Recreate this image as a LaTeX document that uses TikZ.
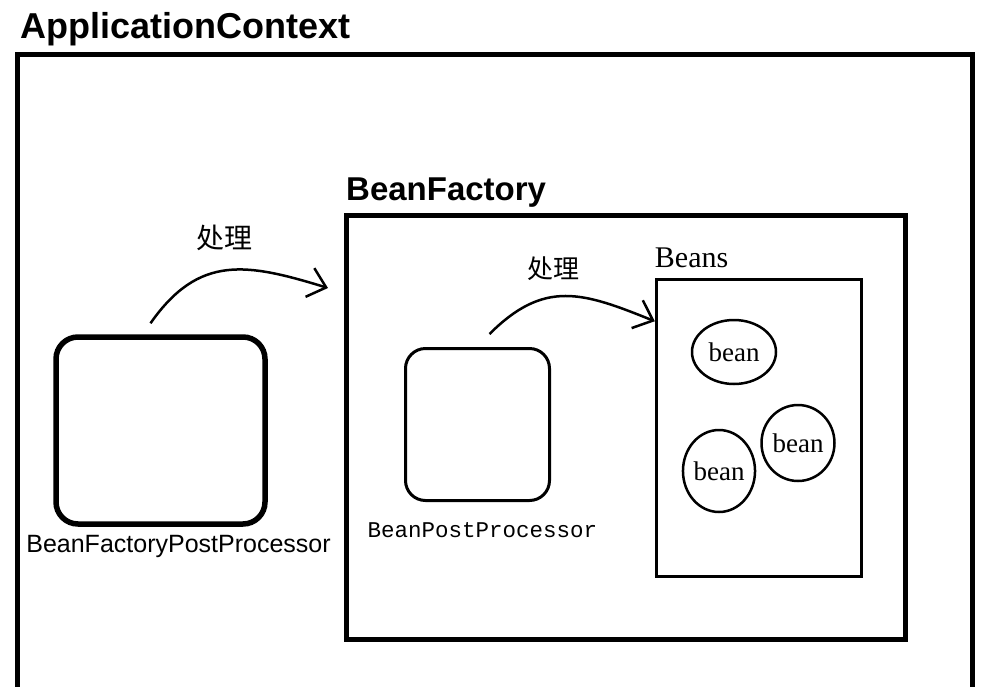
\documentclass[tikz,border=0pt]{standalone}
\usepackage{fontspec}
\setmainfont{Liberation Serif}
\newfontfamily\headfont{Liberation Sans}
\newfontfamily\codefont{Liberation Mono}
\newfontfamily\cjk{Noto Sans CJK SC}
\usetikzlibrary{arrows.meta,positioning,shapes.geometric}
\tikzstyle{container}=[
	rectangle,
	draw,
	line width=5pt,
	inner sep=0pt
]
\tikzstyle{title}=[
	anchor=base west,
	inner sep=0pt,
	font=\headfont\bfseries\fontsize{36}{40}\selectfont
]
\tikzstyle{processor}=[
	rectangle,
	draw,
	rounded corners=22pt,
	inner sep=0pt
]
\tikzstyle{bean}=[
	ellipse,
	draw,
	line width=2.5pt,
	inner sep=0pt,
	font=\fontsize{27}{30}\selectfont
]
\tikzstyle{handle}=[
	-{Straight Barb[length=17pt,width=30pt]},
	line width=2.5pt
]
\tikzstyle{verb}=[
	inner sep=0pt,
	font=\cjk\fontsize{28}{32}\selectfont
]

\begin{document}
\begin{tikzpicture}[x=1pt,y=-1pt]
\useasboundingbox (0,0) rectangle (996,686);
% outer context, open at the bottom of the page
\node [container, minimum width=955pt, minimum height=646pt] (ApplicationContext) at (494.5,377) {};
\node [title] (ApplicationContextTitle) at (20,38) {ApplicationContext};
\node [container, minimum width=559pt, minimum height=424pt] (BeanFactory) at (626,427.5) {};
\node [title, font=\headfont\bfseries\fontsize{33}{38}\selectfont] (BeanFactoryTitle)
	at ([xshift=2pt,yshift=13pt]BeanFactory.north west) {BeanFactory};
\node [container, line width=3pt, minimum width=205.5pt, minimum height=296.5pt] (Beans) at (759,428) {};
\node [inner sep=0pt, font=\fontsize{30}{34}\selectfont] (BeansTitle)
	[above right=10pt and 0pt of Beans.north west] {Beans};
% the three beans
\node [bean, minimum width=84pt, minimum height=64pt] (bean1) at (734,352) {bean};
\node [bean, minimum width=73pt, minimum height=76pt] (bean2) at (798,443) {bean};
\node [bean, minimum width=64pt, minimum height=82pt] (bean3) at (719,471) {bean};
% processors
\node [processor, line width=5.5pt, minimum width=209pt, minimum height=187pt] (BeanFactoryPostProcessor) at (160.5,430.5) {};
\node [inner sep=0pt, font=\headfont\fontsize{25}{30}\selectfont] (BeanFactoryPostProcessorLabel)
	[below=8pt of BeanFactoryPostProcessor, xshift=18pt] {BeanFactoryPostProcessor};
\node [processor, line width=3pt, rounded corners=20pt, minimum width=144pt, minimum height=152pt] (BeanPostProcessor) at (477.5,424.5) {};
\node [inner sep=0pt, font=\codefont\fontsize{22.5}{26}\selectfont] (BeanPostProcessorLabel)
	[below=20pt of BeanPostProcessor, xshift=5pt] {BeanPostProcessor};
% handling arrows
\draw [handle] ([xshift=-10pt,yshift=11pt]BeanFactoryPostProcessor.north)
	to [out=55, in=163, looseness=1.2] node [verb, pos=0.45, above=20pt, xshift=6pt] (handle1) {处理}
	([xshift=-16pt,yshift=-75pt]BeanFactory.north west);
\draw [handle] ([xshift=12pt,yshift=13pt]BeanPostProcessor.north)
	to [out=45, in=158, looseness=1.2] node [verb, font=\cjk\fontsize{26}{30}\selectfont, pos=0.42, above=15pt] (handle2) {处理}
	([yshift=-43pt]Beans.north west);
\end{tikzpicture}
\end{document}
